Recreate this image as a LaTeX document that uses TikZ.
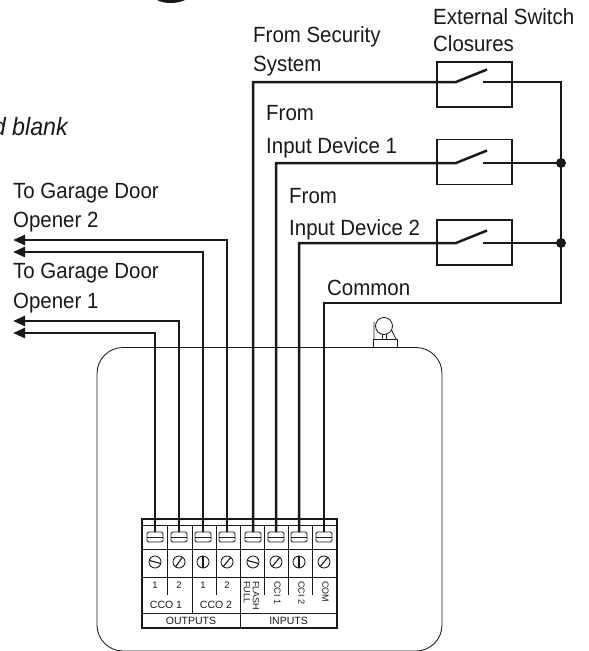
\documentclass[tikz,border=0pt]{standalone}
\usepackage{fontspec}
\setmainfont{Liberation Sans}
\newfontfamily\narrowfont[FakeStretch=0.93]{Liberation Sans}
\usetikzlibrary{arrows.meta,calc}
\definecolor{ink}{gray}{0.1}
\tikzset{
 wire/.style={line width=2.5pt,ink},
 lead/.style={wire,-{Triangle[length=12pt,width=10pt]}},
 fine/.style={line width=0.85pt,ink},
 swbox/.style={draw,line width=1.8pt,ink,minimum width=75pt,minimum height=45pt,inner sep=0pt},
 lbl/.style={font=\narrowfont\fontsize{22}{22}\selectfont,anchor=base west,inner sep=0pt,text=ink},
 tiny/.style={font=\fontsize{10.5}{10.5}\selectfont,inner sep=0pt,text=ink},
 vert/.style={font=\fontsize{9}{9}\selectfont,inner sep=0pt,text=ink,rotate=-90,anchor=west},
 dotnode/.style={circle,fill=ink,inner sep=0pt,minimum size=10pt},
}
\begin{document}
\begin{tikzpicture}[x=1pt,y=-1pt]
\useasboundingbox (0,0) rectangle (589,651);
% top fragment
\fill[ink] (157,0) .. controls (164,4) and (177,4) .. (185,0) -- cycle;
\node[font=\narrowfont\fontsize{25}{25}\selectfont\itshape,anchor=base east,inner sep=0pt,text=ink] (blanktxt) at (68,135) {d blank};
% enclosure
\draw[fine,rounded corners=26pt] (97,347.5) rectangle (442,651);
% lamp
\draw[fine,fill=white] (373,339) rectangle (397,347);
\draw[fine] (374,339) -- (374,322) (396,339) -- (391,329);
\draw[fine] (382,333) -- (382,339) (386,333) -- (386,339);
\draw[fine,fill=white] (384,326) circle (8.5);
% terminal block
\draw[line width=1.2pt,ink,fill=white] (142,519) rectangle (337,628);
\foreach \yy in {525,549,577,613}{\draw[fine] (142,\yy) -- (337,\yy);}
\foreach \x in {167,192,216,240,264,288,312}{\draw[fine] (\x,525) -- (\x,577);}
\draw[fine] (240,577) -- (240,628);
\draw[fine] (192,577) -- (192,613);
\foreach \x in {167,216,264,288,312}{\draw[fine] (\x,577) -- (\x,595);}
% terminals and screws
\foreach \x/\a in {155/15,179/-55,203/90,227/-50,253/15,276/-50,299/90,324/-50}{
 \draw[fine,rounded corners=1.5pt] (\x-8,532) rectangle (\x+8,542);
 \draw[fine] (\x-8,537) -- (\x+8,537);
 \draw[fine] (\x,562) circle (6);
 \draw[line width=1.1pt,ink] ($(\x,562)+(\a:6)$) -- ($(\x,562)+(\a+180:6)$);
}
\coordinate (t1) at (155,532);
\coordinate (t2) at (179,532);
\coordinate (t3) at (203,532);
\coordinate (t4) at (227,532);
\coordinate (t5) at (253,532);
\coordinate (t6) at (276,532);
\coordinate (t7) at (299,532);
\coordinate (t8) at (324,532);
% terminal labels
\node[tiny,font=\fontsize{9.5}{9.5}\selectfont] (n1) at (155,585) {1};
\node[tiny,font=\fontsize{9.5}{9.5}\selectfont] (n2) at (179,585) {2};
\node[tiny,font=\fontsize{9.5}{9.5}\selectfont] (n3) at (203,585) {1};
\node[tiny,font=\fontsize{9.5}{9.5}\selectfont] (n4) at (227,585) {2};
\node[tiny] (cco1) at (166,604.5) {CCO 1};
\node[tiny] (cco2) at (216,604.5) {CCO 2};
\node[tiny] (outs) at (191,620.5) {OUTPUTS};
\node[tiny] (ins) at (288.5,620.5) {INPUTS};
\node[vert] (flash) at (256,581) {FLASH};
\node[vert] (full) at (247,581) {FULL};
\node[vert] (cci1) at (277.5,581) {CCI 1};
\node[vert] (cci2) at (301.5,581) {CCI 2};
\node[vert] (com) at (325.5,581) {COM};
% switch boxes
\node[swbox] (s1) at (474.5,84.5) {};
\node[swbox] (s2) at (474.5,162) {};
\node[swbox] (s3) at (474.5,242.5) {};
\foreach \n/\yy in {1/82,2/163,3/243}{
 \coordinate (a\n) at (456,\yy);
 \coordinate (b\n) at (483,\yy);
 \coordinate (c\n) at (487,\yy-12.5);
 \coordinate (r\n) at (561,\yy);
}
\coordinate (rcom) at (561,303);
% wires
\coordinate (o4) at (13,240);
\coordinate (o3) at (13,252);
\coordinate (o2) at (13,321);
\coordinate (o1) at (13,333);
\draw[lead] (t4) |- (o4);
\draw[lead] (t3) |- (o3);
\draw[lead] (t2) |- (o2);
\draw[lead] (t1) |- (o1);
\draw[wire] (t5) |- (a1) -- (c1);
\draw[wire] (t6) |- (a2) -- (c2);
\draw[wire] (t7) |- (a3) -- (c3);
\draw[wire] (t8) |- (rcom) -- (r1) -- (b1);
\draw[wire] (b2) -- (r2);
\draw[wire] (b3) -- (r3);
\node[dotnode] (d2) at (r2) {};
\node[dotnode] (d3) at (r3) {};
% labels
\node[lbl] (l1) at (253,42) {From Security};
\node[lbl] (l2) at (253,71) {System};
\node[lbl] (l3) at (433,24) {External Switch};
\node[lbl] (l4) at (433,51) {Closures};
\node[lbl] (l5) at (266,120) {From};
\node[lbl] (l6) at (266,153) {Input Device 1};
\node[lbl] (l7) at (289,203) {From};
\node[lbl] (l8) at (289,235) {Input Device 2};
\node[lbl] (l9) at (327,295) {Common};
\node[lbl] (l10) at (13,198) {To Garage Door};
\node[lbl] (l11) at (13,227) {Opener 2};
\node[lbl] (l12) at (13,278) {To Garage Door};
\node[lbl] (l13) at (13,308) {Opener 1};
\end{tikzpicture}
\end{document}
